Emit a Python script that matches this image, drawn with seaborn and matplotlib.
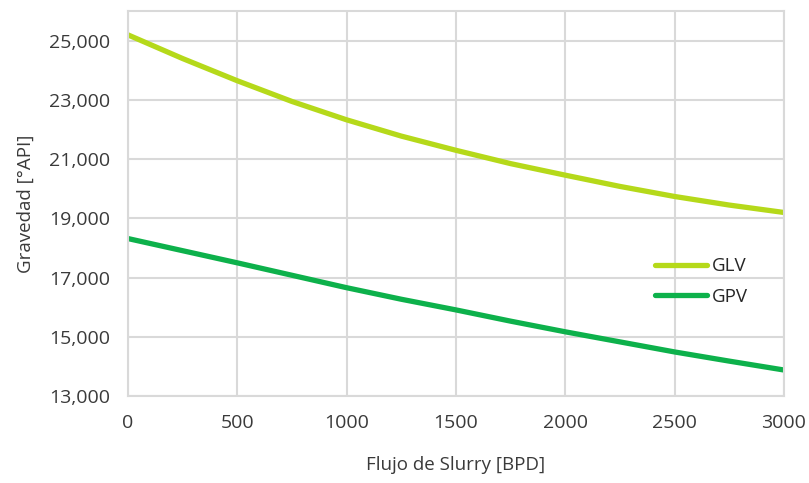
import numpy as np
import pandas as pd
import matplotlib
matplotlib.use("Agg")
import matplotlib.pyplot as plt
import seaborn as sns
from matplotlib.ticker import FuncFormatter

flujo = [0, 250, 500, 750, 1000, 1250, 1500, 1750, 2000, 2250, 2500, 2750, 3000]
glv = [25200, 24400, 23650, 22950, 22330, 21780, 21300, 20850, 20460, 20080, 19740, 19450, 19200]
gpv = [18320, 17910, 17500, 17080, 16660, 16270, 15910, 15530, 15170, 14830, 14490, 14180, 13880]
series_names = ["GLV", "GPV"]
colors = {"GLV": "#B5D91A", "GPV": "#0DB14B"}

df = pd.DataFrame({
    "Flujo": flujo * 2,
    "Gravedad": glv + gpv,
    "Serie": ["GLV"] * len(flujo) + ["GPV"] * len(flujo),
})

sns.set_theme(style="white")
plt.rcParams['font.family'] = ['Open Sans', 'DejaVu Sans']

fig = plt.figure(figsize=(8.09, 4.83), dpi=100)
ax = fig.add_axes([0.158, 0.180, 0.811, 0.797])

sns.lineplot(data=df, x="Flujo", y="Gravedad", hue="Serie", hue_order=series_names,
             palette=colors, linewidth=3.8, ax=ax, legend=True)

ax.set_xlim(0, 3000)
ax.set_ylim(13000, 26000)
ax.set_xticks(range(0, 3001, 500))
ax.set_yticks(range(13000, 25001, 2000))
ax.yaxis.set_major_formatter(FuncFormatter(lambda v, p: f"{int(v):,}"))
ax.grid(True, color="#D9D9D9", linewidth=1.5)
ax.set_axisbelow(True)
for s in ax.spines.values():
    s.set_color("#D9D9D9")
    s.set_linewidth(1.5)
ax.tick_params(axis="x", length=0, labelsize=14, colors="#3A3A3A", pad=13)
ax.tick_params(axis="y", length=0, labelsize=14, colors="#3A3A3A", pad=13)
ax.set_xlabel("Flujo de Slurry [BPD]", fontsize=13.5, color="#3A3A3A", labelpad=17)
ax.set_ylabel("Gravedad [°API]", fontsize=13.5, color="#3A3A3A", labelpad=10)

leg = ax.legend(loc="upper left", bbox_to_anchor=(0.803, 0.36), frameon=False,
                fontsize=13.5, handlelength=2.8, handletextpad=0.25, labelspacing=0.66,
                borderaxespad=0, borderpad=0)
for t in leg.get_texts():
    t.set_color("#262626")

fig.savefig("out.png", dpi=100)
